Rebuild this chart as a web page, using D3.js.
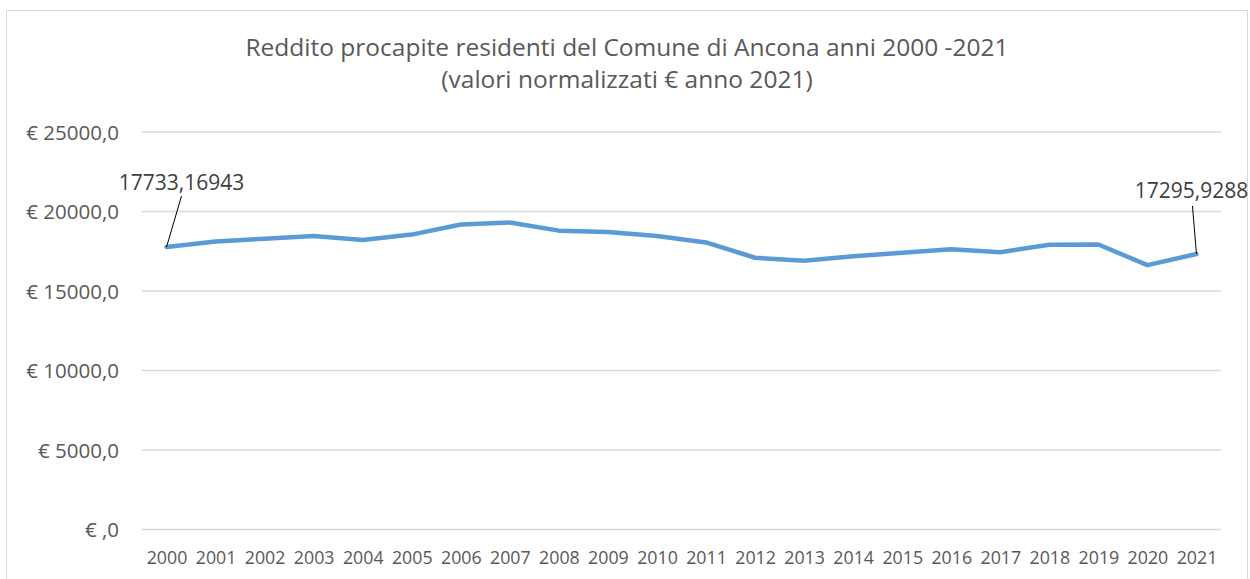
<!DOCTYPE html>
<html>
<head>
<meta charset="utf-8">
<script src="https://cdnjs.cloudflare.com/ajax/libs/d3/7.8.5/d3.min.js"></script>
<style>
  body { margin: 0; background: #fff; }
  svg { display: block; font-family: "Open Sans", sans-serif; }
</style>
</head>
<body>
<div id="chart"></div>
<script>
"use strict";

// chart values
var years = ["2000", "2001", "2002", "2003", "2004", "2005", "2006", "2007", "2008", "2009", "2010",
             "2011", "2012", "2013", "2014", "2015", "2016", "2017", "2018", "2019", "2020", "2021"];
var redditoValues = [17733.16943, 18085, 18255, 18425, 18170, 18515, 19150, 19275, 18765, 18685, 18425,
                     18025, 17060, 16875, 17150, 17380, 17590, 17410, 17875, 17895, 16595, 17295.9288];
var yTicks = [0, 5000, 10000, 15000, 20000, 25000];
var yTickLabels = ["€ ,0", "€ 5000,0", "€ 10000,0", "€ 15000,0", "€ 20000,0", "€ 25000,0"];
var titleLines = ["Reddito procapite residenti del Comune di Ancona anni 2000 -2021",
                  "(valori normalizzati € anno 2021)"];
// only first and last point carry a data label
var labelledPoints = [
  {index: 0, text: "17733,16943", dx: 15, dy: -57, lineDx: 15, lineDy: -51},
  {index: 21, text: "17295,9288", dx: -5, dy: -56, lineDx: -4, lineDy: -48}
];

var totalWidth = 1250;
var totalHeight = 579;

// plot area inside the chart box
var plot = {left: 142, right: 1221, top: 131.5, bottom: 529};

var svg = d3.select("#chart").append("svg")
    .attr("width", totalWidth)
    .attr("height", totalHeight);

// chart border
svg.append("rect")
    .attr("x", 6.5)
    .attr("y", 10.5)
    .attr("width", 1241)
    .attr("height", 600)
    .attr("fill", "none")
    .attr("stroke", "#d9d9d9")
    .attr("stroke-width", 1);

// set the ranges
var x = d3.scalePoint().domain(years).range([plot.left, plot.right]).padding(0.5);
var y = d3.scaleLinear().domain([0, 25000]).range([plot.bottom, plot.top]);

// title
svg.append("g").selectAll("text")
    .data(titleLines)
  .enter().append("text")
    .attr("x", 627)
    .attr("y", function(d, i) { return 56 + i * 32; })
    .attr("text-anchor", "middle")
    .attr("fill", "#595959")
    .style("font-size", "24.5px")
    .text(function(d) { return d; });

// Y axis with the horizontal gridlines
var yAxis = svg.append("g")
    .attr("transform", "translate(" + plot.left + ",0)")
    .call(d3.axisLeft(y)
      .tickValues(yTicks)
      .tickSize(-(plot.right - plot.left))
      .tickPadding(23)
      .tickFormat(function(d, i) { return yTickLabels[i]; }));
yAxis.select(".domain").remove();
yAxis.selectAll(".tick line")
    .attr("stroke", "#d9d9d9")
    .attr("stroke-width", 1.3);
yAxis.selectAll(".tick text")
    .attr("fill", "#595959")
    .attr("dy", "0.37em")
    .style("font-size", "20.5px")
    .style("font-family", "Open Sans, sans-serif");

// X axis
var xAxis = svg.append("g")
    .attr("transform", "translate(0," + plot.bottom + ")")
    .call(d3.axisBottom(x).tickSize(0).tickPadding(22));
xAxis.select(".domain").remove();
xAxis.selectAll(".tick text")
    .attr("fill", "#595959")
    .style("font-size", "17.8px")
    .style("font-family", "Open Sans, sans-serif");

// the line
var lineDataDefinition = d3.line()
    .x(function(d, i) { return x(years[i]); })
    .y(function(d) { return y(d); });

svg.append("path")
    .datum(redditoValues)
    .attr("fill", "none")
    .attr("stroke", "#5b9bd5")
    .attr("stroke-width", 4.5)
    .attr("stroke-linejoin", "round")
    .attr("stroke-linecap", "round")
    .attr("d", lineDataDefinition);

// data labels with leader lines
labelledPoints.forEach(function(p) {
  var px = x(years[p.index]);
  var py = y(redditoValues[p.index]);

  svg.append("line")
      .attr("x1", px)
      .attr("y1", py)
      .attr("x2", px + p.lineDx)
      .attr("y2", py + p.lineDy)
      .attr("stroke", "#000")
      .attr("stroke-width", 1);

  svg.append("text")
      .attr("x", px + p.dx)
      .attr("y", py + p.dy)
      .attr("text-anchor", "middle")
      .attr("fill", "#404040")
      .style("font-size", "21px")
      .text(p.text);
});
</script>
</body>
</html>
